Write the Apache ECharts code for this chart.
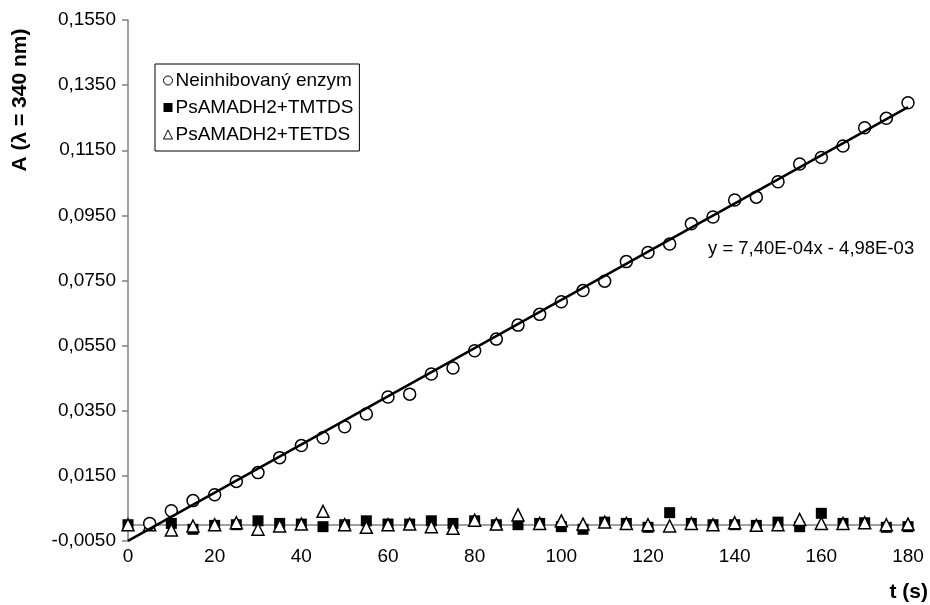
<!DOCTYPE html>
<html>
<head>
<meta charset="utf-8">
<script src="https://cdn.jsdelivr.net/npm/echarts@6/dist/echarts.min.js"></script>
<style>
  html, body { margin: 0; padding: 0; background: #fff; }
  #chart { width: 930px; height: 605px; }
</style>
</head>
<body>
<div id="chart"></div>
<script>
// time (s)
var times = [0, 5, 10, 15, 20, 25, 30, 35, 40, 45, 50, 55, 60, 65, 70, 75, 80, 85, 90,
    95, 100, 105, 110, 115, 120, 125, 130, 135, 140, 145, 150, 155, 160, 165, 170, 175, 180];

// Neinhibovaný enzym (starts at 5 s)
var enzymTimes = times.slice(1);
var enzymValues = [0.0004, 0.0043, 0.0074, 0.0092, 0.0133, 0.0160, 0.0206, 0.0243, 0.0267,
    0.0301, 0.0340, 0.0392, 0.0401, 0.0463, 0.0481, 0.0534, 0.0570, 0.0613, 0.0646, 0.0685,
    0.0719, 0.0748, 0.0808, 0.0836, 0.0862, 0.0924, 0.0945, 0.0997, 0.1006, 0.1053, 0.1108,
    0.1128, 0.1163, 0.1219, 0.1248, 0.1296];

// PsAMADH2+TMTDS
var tmtdsValues = [0.0000, 0.0000, 0.0004, -0.0014, -0.0002, 0.0000, 0.0012, 0.0004, 0.0002,
    -0.0006, 0.0000, 0.0012, 0.0002, 0.0002, 0.0012, 0.0004, 0.0012, 0.0000, 0.0000, 0.0004,
    -0.0006, -0.0014, 0.0008, 0.0004, -0.0008, 0.0037, 0.0004, 0.0000, 0.0000, -0.0002,
    0.0008, -0.0006, 0.0035, 0.0004, 0.0006, -0.0008, -0.0006];

// PsAMADH2+TETDS
var tetdsValues = [0.0000, 0.0000, -0.0016, -0.0004, 0.0000, 0.0006, -0.0014, -0.0004, 0.0002,
    0.0041, 0.0000, -0.0008, 0.0000, 0.0002, -0.0006, -0.0011, 0.0014, 0.0002, 0.0030, 0.0004,
    0.0012, 0.0002, 0.0008, 0.0004, 0.0000, -0.0004, 0.0004, 0.0000, 0.0006, -0.0002,
    0.0000, 0.0016, 0.0004, 0.0004, 0.0006, 0.0000, 0.0002];

// linear fit of the uninhibited enzyme
var slope = 7.40e-4;
var intercept = -4.98e-3;
var trendX = [0, 180];
var equationText = 'y = 7,40E-04x - 4,98E-03';

var seriesNames = ['Neinhibovaný enzym', 'PsAMADH2+TMTDS', 'PsAMADH2+TETDS'];

function pairs(xs, ys) {
    return xs.map(function (x, i) { return [x, ys[i]]; });
}

var chart = echarts.init(document.getElementById('chart'));
var font = 'Liberation Sans, Arial, sans-serif';

chart.setOption({
    animation: false,
    textStyle: { fontFamily: font },
    grid: { left: 128, right: 22, top: 20, bottom: 64, containLabel: false },
    legend: {
        orient: 'vertical',
        left: 155,
        top: 64,
        padding: [7, 6, 7, 8],
        borderColor: '#000',
        borderWidth: 1,
        itemWidth: 9,
        itemHeight: 9,
        itemGap: 8,
        textStyle: { fontSize: 19, color: '#000', fontFamily: font, padding: [0, 0, 0, -2] },
        data: [
            { name: seriesNames[0], icon: 'circle', itemStyle: { color: '#fff', borderColor: '#000', borderWidth: 1, opacity: 1 } },
            { name: seriesNames[1], icon: 'rect', itemStyle: { color: '#000', borderWidth: 0, opacity: 1 } },
            { name: seriesNames[2], icon: 'triangle', itemStyle: { color: '#fff', borderColor: '#000', borderWidth: 1, opacity: 1 } }
        ]
    },
    xAxis: {
        type: 'value',
        min: 0,
        max: 180,
        interval: 20,
        axisLine: { show: false },
        axisTick: { show: false },
        splitLine: { show: false },
        axisLabel: { fontSize: 19, color: '#000', margin: 6, fontFamily: font }
    },
    yAxis: {
        type: 'value',
        min: -0.005,
        max: 0.155,
        interval: 0.02,
        axisLine: { show: true, lineStyle: { color: '#808080', width: 1.5 } },
        axisTick: { show: true, length: 6, lineStyle: { color: '#808080', width: 1.5 } },
        splitLine: { show: false },
        axisLabel: {
            fontSize: 19, color: '#000', margin: 12, fontFamily: font,
            formatter: function (v) { return v.toFixed(4).replace('.', ','); }
        }
    },
    graphic: [
        {
            type: 'text',
            x: 20, y: 100,
            rotation: Math.PI / 2,
            style: {
                text: 'A (λ = 340 nm)', fontSize: 21, fontWeight: 'bold', fill: '#000',
                fontFamily: font, align: 'center', verticalAlign: 'middle'
            }
        },
        {
            type: 'text',
            right: 2, top: 582,
            style: { text: 't (s)', fontSize: 21, fontWeight: 'bold', fill: '#000', fontFamily: font }
        },
        {
            type: 'text',
            left: 708, top: 239,
            style: { text: equationText, fontSize: 18.5, fill: '#000', fontFamily: font }
        }
    ],
    series: [
        {
            name: seriesNames[1],
            type: 'scatter',
            z: 2,
            symbol: 'rect',
            symbolSize: 11,
            itemStyle: { color: '#000', opacity: 1 },
            data: pairs(times, tmtdsValues),
            markLine: {
                silent: true,
                z: 1,
                symbol: 'none',
                label: { show: false },
                lineStyle: { color: '#808080', width: 1.5, type: 'solid' },
                data: [{ yAxis: 0 }]
            }
        },
        {
            name: seriesNames[2],
            type: 'scatter',
            z: 3,
            symbol: 'triangle',
            symbolSize: 12,
            itemStyle: { color: '#fff', borderColor: '#000', borderWidth: 1.5, opacity: 1 },
            data: pairs(times, tetdsValues)
        },
        {
            name: seriesNames[0],
            type: 'scatter',
            z: 4,
            symbol: 'circle',
            symbolSize: 12,
            itemStyle: { color: '#fff', borderColor: '#000', borderWidth: 1.5, opacity: 1 },
            data: pairs(enzymTimes, enzymValues)
        },
        {
            name: 'trend',
            type: 'line',
            z: 5,
            symbol: 'none',
            lineStyle: { color: '#000', width: 2.5 },
            data: trendX.map(function (x) { return [x, slope * x + intercept]; })
        }
    ]
});
</script>
</body>
</html>
